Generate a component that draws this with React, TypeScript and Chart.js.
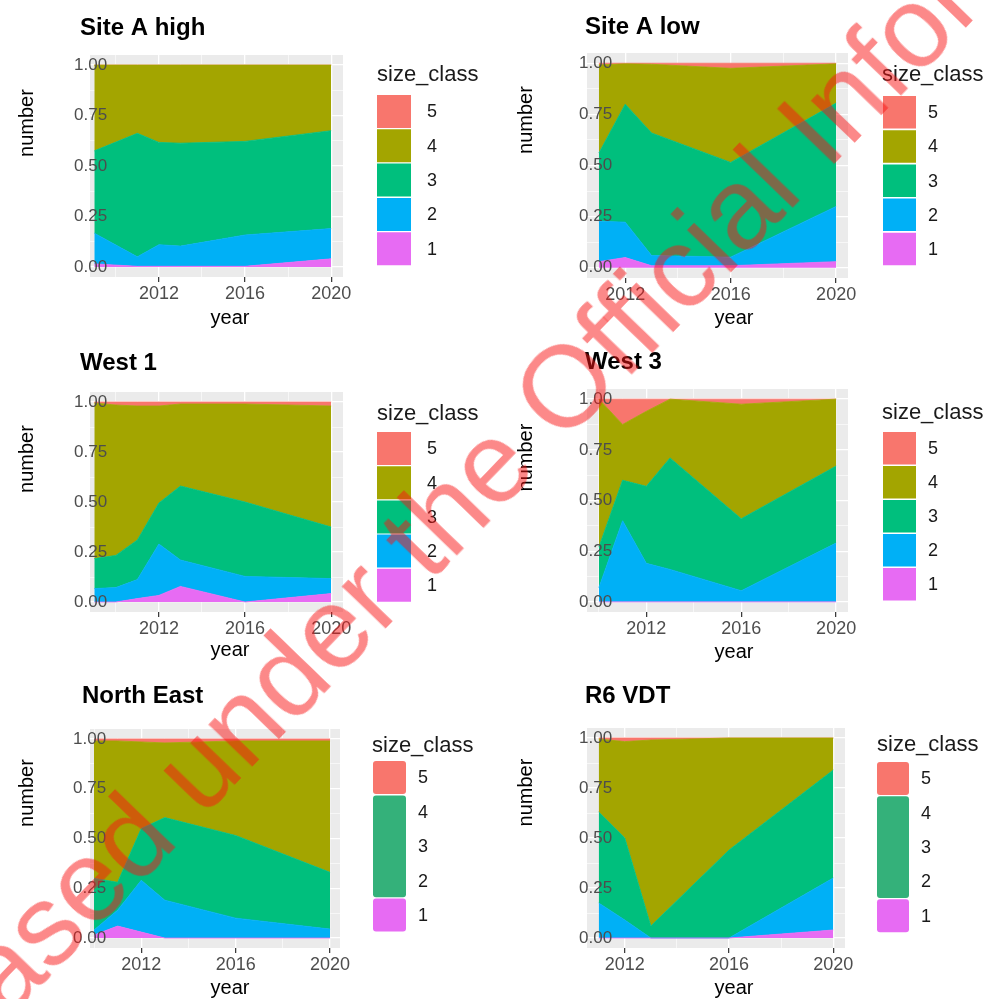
import React, { useEffect, useRef } from 'react';
import { Chart, registerables } from 'chart.js';

Chart.register(...registerables);

// ---------- shared categories / ticks ----------
const CLASS_LABELS = ['1', '2', '3', '4', '5'];
const CLASS_COLORS = ['#E76BF3', '#00B0F6', '#00BF7D', '#A3A500', '#F8766D'];
const MERGED_KEY_COLOR = '#34B17A';
const Y_TICK_VALUES = [0, 0.125, 0.25, 0.375, 0.5, 0.625, 0.75, 0.875, 1];
const X_TICK_YEARS = [2010, 2012, 2014, 2016, 2018, 2020];
const WATERMARK_TEXT = 'Released under the Official Information Act';

// ---------- Site A high ----------
const siteAHighYears = [2009, 2011, 2012, 2013, 2016, 2020];
const siteAHigh1 = [0.015, 0.003, 0.003, 0.003, 0.003, 0.04];
const siteAHigh2 = [0.152, 0.047, 0.107, 0.1, 0.155, 0.15];
const siteAHigh3 = [0.408, 0.612, 0.507, 0.51, 0.464, 0.485];
const siteAHigh4 = [0.425, 0.338, 0.383, 0.387, 0.378, 0.325];
const siteAHigh5 = [0, 0, 0, 0, 0, 0];

// ---------- Site A low ----------
const siteALowYears = [2011, 2012, 2013, 2016, 2020];
const siteALow1 = [0.03, 0.05, 0.01, 0.01, 0.03];
const siteALow2 = [0.198, 0.173, 0.05, 0.042, 0.27];
const siteALow3 = [0.333, 0.577, 0.599, 0.463, 0.505];
const siteALow4 = [0.431, 0.197, 0.336, 0.46, 0.192];
const siteALow5 = [0.008, 0.003, 0.005, 0.025, 0.003];

// ---------- West 1 ----------
const west1Years = [2009, 2010, 2011, 2012, 2013, 2016, 2020];
const west1_1 = [0, 0, 0.017, 0.033, 0.078, 0, 0.042];
const west1_2 = [0.067, 0.072, 0.095, 0.257, 0.132, 0.128, 0.075];
const west1_3 = [0.15, 0.161, 0.198, 0.205, 0.37, 0.372, 0.258];
const west1_4 = [0.778, 0.752, 0.67, 0.485, 0.41, 0.49, 0.605];
const west1_5 = [0.005, 0.015, 0.02, 0.02, 0.01, 0.01, 0.02];

// ---------- West 3 ----------
const west3Years = [2010, 2011, 2012, 2013, 2016, 2020];
const west3_1 = [0, 0, 0, 0, 0, 0];
const west3_2 = [0.07, 0.4, 0.19, 0.16, 0.055, 0.29];
const west3_3 = [0.2, 0.2, 0.38, 0.55, 0.355, 0.38];
const west3_4 = [0.73, 0.275, 0.37, 0.29, 0.565, 0.33];
const west3_5 = [0, 0.125, 0.06, 0, 0.025, 0];

// ---------- North East ----------
const northEastYears = [2010, 2011, 2012, 2013, 2016, 2020];
const northEast1 = [0.015, 0.06, 0.03, 0, 0, 0];
const northEast2 = [0.025, 0.08, 0.26, 0.19, 0.1, 0.045];
const northEast3 = [0.26, 0.14, 0.26, 0.415, 0.415, 0.285];
const northEast4 = [0.69, 0.71, 0.435, 0.375, 0.475, 0.66];
const northEast5 = [0.01, 0.01, 0.015, 0.02, 0.01, 0.01];

// ---------- R6 VDT ----------
const r6Years = [2011, 2012, 2013, 2016, 2020];
const r6_1 = [0, 0, 0, 0, 0.04];
const r6_2 = [0.175, 0.09, 0, 0, 0.26];
const r6_3 = [0.455, 0.41, 0.06, 0.44, 0.54];
const r6_4 = [0.365, 0.482, 0.93, 0.56, 0.16];
const r6_5 = [0.005, 0.018, 0.01, 0, 0];

const FONT = '"Liberation Sans", Arial, Helvetica, sans-serif';
const Y_LABEL_WIDTH = 33;

type Layout = {
  box: { left: number; top: number; width: number; height: number };
  area: { l: number; t: number; r: number; b: number };
  xMin: number;
  xMax: number;
  labelShift: number;
  title: { x: number; y: number };
  yTitle: { x: number; y: number };
  xTitle: { x: number; y: number };
  legend: {
    titleX: number; titleY: number; x: number; top: number; pitch: number;
    w: number; h: number; labelX: number; merged: boolean; radius: number;
  };
};

type PanelDef = { title: string; years: number[]; shares: number[][]; layout: Layout };

const PANELS: PanelDef[] = [
  {
    title: 'Site A high',
    years: siteAHighYears,
    shares: [siteAHigh1, siteAHigh2, siteAHigh3, siteAHigh4, siteAHigh5],
    layout: {
      box: { left: 0, top: 0, width: 493, height: 336 },
      area: { l: 90, t: 55, r: 343, b: 277 },
      xMin: 2008.8, xMax: 2020.55, labelShift: 17,
      title: { x: 80, y: 35 }, yTitle: { x: 33, y: 123 }, xTitle: { x: 230, y: 324 },
      legend: { titleX: 377, titleY: 81, x: 377, top: 95, pitch: 34.3, w: 34, h: 33, labelX: 427, merged: false, radius: 0 },
    },
  },
  {
    title: 'Site A low',
    years: siteALowYears,
    shares: [siteALow1, siteALow2, siteALow3, siteALow4, siteALow5],
    layout: {
      box: { left: 493, top: 0, width: 493, height: 336 },
      area: { l: 94, t: 53, r: 355, b: 278 },
      xMin: 2010.55, xMax: 2020.45, labelShift: 25,
      title: { x: 92, y: 34 }, yTitle: { x: 39, y: 120 }, xTitle: { x: 241, y: 324 },
      legend: { titleX: 389, titleY: 81, x: 390, top: 96, pitch: 34.2, w: 33, h: 32.5, labelX: 435, merged: false, radius: 0 },
    },
  },
  {
    title: 'West 1',
    years: west1Years,
    shares: [west1_1, west1_2, west1_3, west1_4, west1_5],
    layout: {
      box: { left: 0, top: 336, width: 493, height: 334 },
      area: { l: 90, t: 56, r: 343, b: 276 },
      xMin: 2008.8, xMax: 2020.55, labelShift: 17,
      title: { x: 80, y: 34 }, yTitle: { x: 33, y: 123 }, xTitle: { x: 230, y: 320 },
      legend: { titleX: 377, titleY: 84, x: 377, top: 96, pitch: 34.2, w: 34, h: 33, labelX: 427, merged: false, radius: 0 },
    },
  },
  {
    title: 'West 3',
    years: west3Years,
    shares: [west3_1, west3_2, west3_3, west3_4, west3_5],
    layout: {
      box: { left: 493, top: 336, width: 493, height: 334 },
      area: { l: 94, t: 53, r: 355, b: 276 },
      xMin: 2009.5, xMax: 2020.5, labelShift: 25,
      title: { x: 92, y: 33 }, yTitle: { x: 39, y: 121.5 }, xTitle: { x: 241, y: 322 },
      legend: { titleX: 389, titleY: 83, x: 390, top: 96, pitch: 34, w: 33, h: 32.5, labelX: 435, merged: false, radius: 0 },
    },
  },
  {
    title: 'North East',
    years: northEastYears,
    shares: [northEast1, northEast2, northEast3, northEast4, northEast5],
    layout: {
      box: { left: 0, top: 670, width: 493, height: 329 },
      area: { l: 90, t: 59, r: 340, b: 278 },
      xMin: 2009.83, xMax: 2020.42, labelShift: 16,
      title: { x: 82, y: 33 }, yTitle: { x: 33, y: 123 }, xTitle: { x: 230, y: 324 },
      legend: { titleX: 372, titleY: 82, x: 373, top: 91, pitch: 34.4, w: 33, h: 33, labelX: 418, merged: true, radius: 3 },
    },
  },
  {
    title: 'R6 VDT',
    years: r6Years,
    shares: [r6_1, r6_2, r6_3, r6_4, r6_5],
    layout: {
      box: { left: 493, top: 670, width: 493, height: 329 },
      area: { l: 94, t: 58, r: 352, b: 278 },
      xMin: 2010.55, xMax: 2020.45, labelShift: 25,
      title: { x: 92, y: 33 }, yTitle: { x: 39, y: 122.5 }, xTitle: { x: 241, y: 324 },
      legend: { titleX: 384, titleY: 81, x: 384, top: 92, pitch: 34.3, w: 32, h: 33, labelX: 428, merged: true, radius: 3 },
    },
  },
];

function isQuarter(v: number) {
  return Math.abs(v * 4 - Math.round(v * 4)) < 1e-6;
}

function makeDecor(p: PanelDef) {
  const L = p.layout;
  return {
    id: 'panelDecor',
    beforeDraw(chart: any) {
      const { ctx, chartArea: a } = chart;
      ctx.save();
      ctx.fillStyle = '#EBEBEB';
      ctx.fillRect(a.left, a.top, a.right - a.left, a.bottom - a.top);
      ctx.restore();
    },
    afterDraw(chart: any) {
      const ctx = chart.ctx as CanvasRenderingContext2D;
      ctx.save();
      // panel title
      ctx.fillStyle = '#000000';
      ctx.textAlign = 'left';
      ctx.textBaseline = 'alphabetic';
      ctx.font = `bold 24px ${FONT}`;
      ctx.fillText(p.title, L.title.x, L.title.y);
      // axis titles
      ctx.font = `20px ${FONT}`;
      ctx.save();
      ctx.translate(L.yTitle.x, L.yTitle.y);
      ctx.rotate(-Math.PI / 2);
      ctx.textAlign = 'center';
      ctx.fillText('number', 0, 0);
      ctx.restore();
      ctx.textAlign = 'center';
      ctx.fillText('year', L.xTitle.x, L.xTitle.y);
      // legend
      const lg = L.legend;
      ctx.textAlign = 'left';
      ctx.fillStyle = '#1a1a1a';
      ctx.font = `22px ${FONT}`;
      ctx.fillText('size_class', lg.titleX, lg.titleY);
      const order = [4, 3, 2, 1, 0];
      const drawKey = (x: number, y: number, w: number, h: number, color: string) => {
        ctx.fillStyle = color;
        ctx.beginPath();
        if (lg.radius > 0 && (ctx as any).roundRect) (ctx as any).roundRect(x, y, w, h, lg.radius);
        else ctx.rect(x, y, w, h);
        ctx.fill();
      };
      if (lg.merged) {
        drawKey(lg.x, lg.top, lg.w, lg.h, CLASS_COLORS[4]);
        drawKey(lg.x, lg.top + lg.pitch, lg.w, lg.pitch * 2 + lg.h, MERGED_KEY_COLOR);
        drawKey(lg.x, lg.top + lg.pitch * 4, lg.w, lg.h, CLASS_COLORS[0]);
      } else {
        order.forEach((ci, i) => drawKey(lg.x, lg.top + i * lg.pitch, lg.w, lg.h, CLASS_COLORS[ci]));
      }
      ctx.fillStyle = '#1a1a1a';
      ctx.font = `18px ${FONT}`;
      ctx.textBaseline = 'middle';
      order.forEach((ci, i) => {
        ctx.fillText(CLASS_LABELS[ci], lg.labelX, lg.top + i * lg.pitch + lg.h / 2 + 1);
      });
      ctx.restore();
    },
  };
}

function buildConfig(p: PanelDef): any {
  const L = p.layout;
  const datasets = p.shares.map((vals, ci) => ({
    label: CLASS_LABELS[ci],
    data: p.years.map((yr, i) => ({ x: yr, y: vals[i] })),
    backgroundColor: CLASS_COLORS[ci],
    borderColor: CLASS_COLORS[ci],
    borderWidth: 0.8,
    pointRadius: 0,
    tension: 0,
    fill: ci === 0 ? 'origin' : '-1',
  }));
  return {
    type: 'line',
    data: { datasets },
    options: {
      responsive: false,
      animation: false,
      devicePixelRatio: 1,
      layout: { padding: { left: 0, top: L.area.t, right: L.box.width - L.area.r, bottom: 0 } },
      plugins: { legend: { display: false }, tooltip: { enabled: false }, title: { display: false } },
      elements: { line: { borderJoinStyle: 'miter' } },
      scales: {
        x: {
          type: 'linear',
          min: L.xMin,
          max: L.xMax,
          border: { display: false },
          afterFit: (s: any) => { s.height = L.box.height - L.area.b; },
          afterBuildTicks: (s: any) => {
            s.ticks = X_TICK_YEARS.filter((v) => v >= L.xMin && v <= L.xMax).map((v) => ({ value: v }));
          },
          grid: {
            color: '#FFFFFF',
            lineWidth: (c: any) => (c.tick && c.tick.value % 4 === 0 ? 1.3 : 0.6),
            drawTicks: true,
            tickLength: 5,
            tickWidth: 1.2,
            tickColor: (c: any) => (c.tick && c.tick.value % 4 === 0 ? '#333333' : 'rgba(0,0,0,0)'),
          },
          ticks: {
            autoSkip: false,
            maxRotation: 0,
            padding: 1,
            color: '#4D4D4D',
            font: { family: FONT, size: 18 },
            callback: (v: any) => (Number(v) % 4 === 0 ? String(v) : ''),
          },
        },
        y: {
          type: 'linear',
          stacked: true,
          min: -0.05,
          max: 1.05,
          border: { display: false },
          afterFit: (s: any) => { s.width = L.area.l; },
          afterBuildTicks: (s: any) => { s.ticks = Y_TICK_VALUES.map((v) => ({ value: v })); },
          grid: {
            z: -1,
            color: '#FFFFFF',
            lineWidth: (c: any) => (c.tick && isQuarter(c.tick.value) ? 1.3 : 0.6),
            drawTicks: false,
          },
          ticks: {
            z: 1,
            mirror: true,
            crossAlign: 'near',
            padding: L.labelShift - Y_LABEL_WIDTH,
            color: '#4D4D4D',
            font: { family: FONT, size: 17 },
            callback: (v: any) => (isQuarter(Number(v)) ? Number(v).toFixed(2) : ''),
          },
        },
      },
    },
    plugins: [makeDecor(p)],
  };
}

function Panel({ def }: { def: PanelDef }) {
  const ref = useRef<HTMLCanvasElement | null>(null);
  useEffect(() => {
    if (!ref.current) return;
    const chart = new Chart(ref.current, buildConfig(def));
    return () => chart.destroy();
  }, [def]);
  const b = def.layout.box;
  return (
    <canvas
      ref={ref}
      width={b.width}
      height={b.height}
      style={{ position: 'absolute', left: b.left, top: b.top, width: b.width, height: b.height }}
    />
  );
}

export default function App() {
  const wmSize = 115;
  const wmStartX = -179;
  const wmStartY = 1170;
  const wmMid = 67;
  return (
    <div
      style={{
        position: 'absolute',
        left: 0,
        top: 0,
        width: 986,
        height: 999,
        overflow: 'hidden',
        background: '#FFFFFF',
      }}
    >
      {PANELS.map((p) => (
        <Panel key={p.title} def={p} />
      ))}
      <div
        style={{
          position: 'absolute',
          left: wmStartX,
          top: wmStartY - wmMid,
          whiteSpace: 'nowrap',
          fontFamily: FONT,
          fontSize: wmSize,
          lineHeight: `${wmSize}px`,
          color: 'rgba(250, 20, 20, 0.5)',
          transformOrigin: `0px ${wmMid}px`,
          transform: 'rotate(-46deg)',
          pointerEvents: 'none',
        }}
      >
        {WATERMARK_TEXT}
      </div>
    </div>
  );
}
